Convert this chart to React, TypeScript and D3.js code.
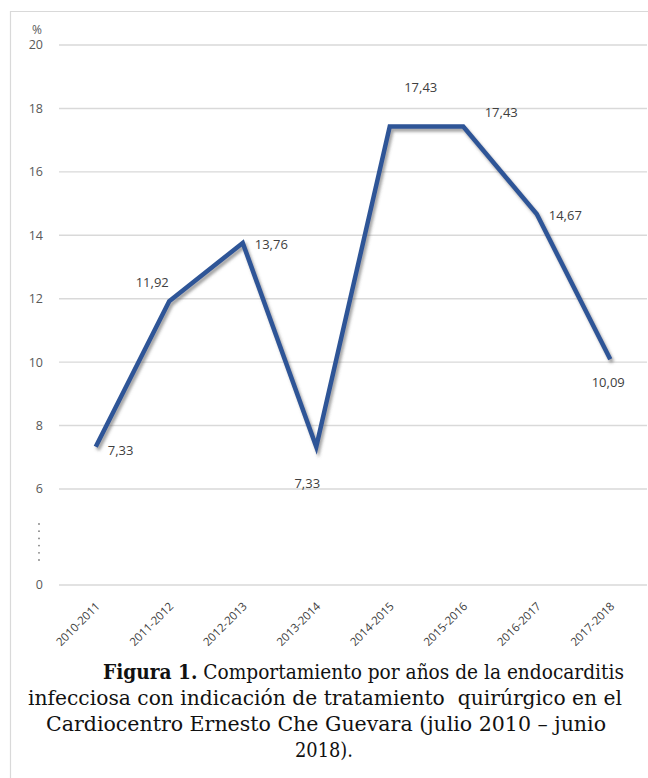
import React from "react";
import * as d3 from "d3";

const categories = ["2010-2011","2011-2012","2012-2013","2013-2014","2014-2015","2015-2016","2016-2017","2017-2018"];
const values = [7.33, 11.92, 13.76, 7.33, 17.43, 17.43, 14.67, 10.09];
const valueLabels = ["7,33","11,92","13,76","7,33","17,43","17,43","14,67","10,09"];
const yTicks = [6, 8, 10, 12, 14, 16, 18, 20];
const captionBold = "Figura 1.";
const captionLines = [
  " Comportamiento por años de la endocarditis",
  "infecciosa con indicación de tratamiento  quirúrgico en el",
  "Cardiocentro Ernesto Che Guevara (julio 2010 – junio",
  "2018).",
];

// label placement (style): [dx, dy, anchor]
const labelOffsets: [number, number, string][] = [
  [12, 8, "start"], [-17, -14, "middle"], [12, 6, "start"], [-9, 41, "middle"],
  [31, -35, "middle"], [38, -10, "middle"], [12, 6, "start"], [-2, 28, "middle"],
];
// caption layout (style): [startX, baselineY, width]
const captionLayout: [number, number, number][] = [
  [103, 679, 521], [28, 705, 594], [46, 731, 560], [295, 757, 58],
];

export default function App() {
  const W = 648, H = 778;
  const left = 59, right = 647;
  const x = d3.scaleBand<string>().domain(categories).range([left, right]);
  const y = d3.scaleLinear().domain([6, 20]).range([489, 45]);
  const yZero = 585;
  const cx = (c: string) => (x(c) as number) + x.bandwidth() / 2;
  const line = d3.line<number>().x((_, i) => cx(categories[i])).y((v) => y(v));
  const grid = "#d9d9d9";
  const sans = "'Open Sans', 'Liberation Sans', sans-serif";
  const serif = "'DejaVu Serif', 'Liberation Serif', serif";

  return (
    <svg width={W} height={H} style={{ position: "absolute", left: 0, top: 0 }}>
      <defs>
        <filter id="sh" x="-10%" y="-10%" width="120%" height="120%">
          <feDropShadow dx="2" dy="3" stdDeviation="1.6" floodColor="#555" floodOpacity="0.55" />
        </filter>
      </defs>
      <rect width={W} height={H} fill="#fff" />
      <line x1={10} y1={11.5} x2={W} y2={11.5} stroke={grid} strokeWidth={1.2} />
      <line x1={10.5} y1={11} x2={10.5} y2={H} stroke={grid} strokeWidth={1.2} />
      {yTicks.map((t) => (
        <g key={t}>
          <line x1={left} x2={right} y1={y(t)} y2={y(t)} stroke={grid} strokeWidth={1.4} />
          <text x={43} y={y(t)} dy="0.35em" textAnchor="end" fontFamily={sans} fontSize={12.5} fill="#595959">{t}</text>
        </g>
      ))}
      <line x1={left} x2={right} y1={yZero} y2={yZero} stroke={grid} strokeWidth={1.4} />
      <text x={43} y={yZero} dy="0.35em" textAnchor="end" fontFamily={sans} fontSize={12.5} fill="#595959">0</text>
      <text x={37} y={34} textAnchor="middle" fontFamily={sans} fontSize={12} fill="#595959">%</text>
      {d3.range(6).map((i) => (
        <circle key={i} cx={39} cy={524 + i * 7.2} r={0.9} fill="#808080" />
      ))}
      <path d={line(values) || ""} fill="none" stroke="#2F5597" strokeWidth={4.5} strokeLinejoin="miter" filter="url(#sh)" />
      {values.map((v, i) => (
        <text key={i} x={cx(categories[i]) + labelOffsets[i][0]} y={y(v) + labelOffsets[i][1]}
          textAnchor={labelOffsets[i][2] as any} fontFamily={sans} fontSize={13} fill="#404040">{valueLabels[i]}</text>
      ))}
      {categories.map((c) => (
        <text key={c} transform={`translate(${cx(c) + 5},${607}) rotate(-45)`} textAnchor="end"
          fontFamily={sans} fontSize={11.5} fill="#404040">{c}</text>
      ))}
      <text x={captionLayout[0][0]} y={captionLayout[0][1]} fontFamily={serif} fontSize={19.5} fill="#111"
        textLength={captionLayout[0][2]} lengthAdjust="spacingAndGlyphs" style={{ whiteSpace: "pre" }}>
        <tspan fontWeight="bold">{captionBold}</tspan>{captionLines[0]}
      </text>
      {captionLines.slice(1).map((l, i) => (
        <text key={i} x={captionLayout[i + 1][0]} y={captionLayout[i + 1][1]} fontFamily={serif} fontSize={19.5} fill="#111"
          textLength={captionLayout[i + 1][2]} lengthAdjust="spacingAndGlyphs" style={{ whiteSpace: "pre" }}>{l}</text>
      ))}
    </svg>
  );
}
